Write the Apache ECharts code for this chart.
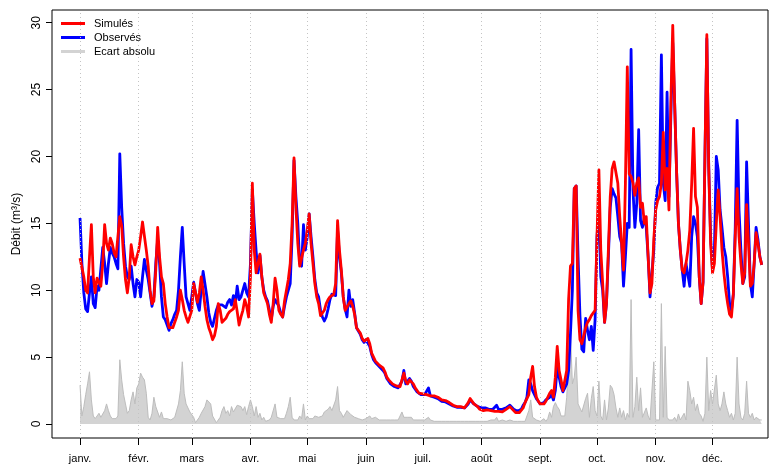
<!DOCTYPE html>
<html>
<head>
<meta charset="utf-8">
<script src="https://cdn.jsdelivr.net/npm/echarts@6/dist/echarts.min.js"></script>
<style>
html,body{margin:0;padding:0;background:#fff;}
#chart{width:777px;height:466px;}
</style>
</head>
<body>
<div id="chart"></div>
<script>
// day-of-year index (0 = 1 Jan), one value per day
const simules = [
12.4,12.3,11,10,9.8,12.5,14.9,11,9.8,10.9,
10.9,10.3,12,14.9,13.5,13.0,13.9,13.5,12.8,12.5,
12.5,15.5,14.8,12.5,10.8,9.8,11,13.4,12.5,11.9,
12.5,13,14,15.1,15.2,13,11.8,10,9.0,9.2,
11.5,14.7,12.5,11,10.5,9,8,7.2,7.1,7.2,
7.3,8,8.5,10,9.3,8.5,8.0,7.6,7.5,8.5,
10.5,10.5,9.1,9.8,11.0,10,8.8,7.8,7.2,6.8,
6.3,6.6,7.3,9.0,8.5,7.6,7.6,7.9,8.2,8.4,
8.5,8.6,9.3,8.4,7.4,8,8.5,9.3,8.8,8.0,
11,18.0,13,11.3,11.4,12.7,11,9.8,9.4,9.0,
8.2,7.6,9,10.9,10,8.5,8.2,8.0,9.2,10,
10.8,12,15,19.9,16.2,13.5,11.8,11.7,13.0,13.5,
14.5,15.7,13.5,12,10.5,9.5,9.0,8.1,8.3,8.5,
9.0,9.3,9.5,9.5,9.7,10.5,15.2,13,11.5,9.5,
8.5,8.4,9.0,9.2,8.8,8.2,7.2,7.3,6.8,6.4,
6.2,6.3,6.4,6.0,5.3,5.0,4.7,4.6,4.4,4.3,
4.2,3.9,3.5,3.3,3.2,3.0,2.9,2.85,2.8,2.8,
3.3,3.8,3.2,3.0,3.3,3.4,3.0,2.7,2.5,2.3,
2.3,2.25,2.2,2.2,2.2,2.1,2.1,2.1,2.2,2.0,
1.9,1.8,1.8,1.75,1.7,1.6,1.5,1.4,1.35,1.3,
1.3,1.3,1.25,1.2,1.3,1.6,1.9,1.8,1.5,1.4,
1.3,1.1,1.05,1.0,1.1,1.05,1.0,1.0,1.0,0.95,
1.0,0.95,0.9,0.9,1.0,1.1,1.2,1.3,1.3,1.0,
0.85,0.8,0.85,0.9,1.2,1.6,1.9,2.2,3.5,4.3,
2.8,2.0,1.7,1.5,1.4,1.5,1.7,1.6,2.3,2.5,
2.0,3.5,5.8,4.0,3.3,2.5,2.6,4.0,9.3,11.8,
12,17.6,17.8,8.5,6.3,6.0,6.6,7.2,7.6,7.8,
8.1,8.2,8.5,14,19.0,13,10.5,7.6,9,13,
17,19.1,19.6,19.6,18,15.5,13.5,11.5,18,26.7,
18.7,18.5,18,17.1,18,18.4,16.2,16.5,15,15.5,
12.5,9.8,10.5,13.8,16,16.7,17,18,21.8,17.5,
19.1,16,24,29.8,24,19,15,13,11.5,11.3,
12,13,14.5,18,22.1,17,16.2,11,9,10.6,
20,29.1,19.1,13.5,11.3,12,15,17.5,15.5,13,
11.3,10,9,8.2,8.0,9.7,14,17.6,14,12,
10.5,11.3,16.4,13.5,10.3,10.5,12,14.3,13.5,12.5,11.9
];
const observes = [
15.4,12,9.8,8.6,8.4,9.8,11.0,9,8.7,10.3,
10,9.9,13.2,12,10.5,12,13.2,12.8,12.5,12,
11.6,20.2,16.2,13.5,11.8,11,10.8,11.8,10.5,9.5,
10.8,10.6,9.5,11,12.3,11.5,10.8,9.8,8.8,9.5,
12,13.8,12,9.5,8,7.8,7.4,7.0,7.5,7.8,
8.2,8.5,10,12.5,14.7,12,9.5,9,8.5,9.5,
10.6,10.6,9,8.5,10,11.4,11.3,9.5,8.3,7.6,
7.3,7.9,8.5,8.9,9.0,8.9,8.8,8.7,9.1,9.3,
8.9,9.6,9.0,10.3,9.3,9.5,9.6,10.5,9.8,9.5,
12,17.5,15,12.9,11.3,12.6,11,10,9.5,9.2,
8.5,7.8,8.8,9.3,9.2,8.8,8.3,8.0,8.8,9.5,
10,10.5,14,19.7,17,15,12,11.8,14.9,13,
14,15.7,14,12.5,10.8,9.8,9.5,8.5,8.0,7.7,
8.0,8.6,9.3,9.7,9.8,9.6,14.5,12.5,11.3,9.5,
8.6,8.0,10.0,8.8,9.3,8.3,7.2,7.2,6.7,6.3,
6.1,6.3,6.3,5.8,5.2,4.8,4.6,4.5,4.3,4.2,
4.0,3.8,3.4,3.2,3.0,2.9,2.8,2.7,2.7,2.7,
3.2,4.0,3.0,2.9,3.4,3.2,2.8,2.6,2.4,2.3,
2.2,2.2,2.2,2.3,2.7,2.1,2.0,2.0,2.1,1.9,
1.8,1.7,1.7,1.65,1.6,1.5,1.4,1.35,1.3,1.25,
1.25,1.25,1.2,1.2,1.3,1.5,1.8,1.7,1.5,1.4,
1.3,1.2,1.2,1.15,1.2,1.15,1.1,1.2,1.1,1.2,
1.4,1.1,1.1,1.1,1.2,1.2,1.3,1.4,1.3,1.1,
1.0,0.95,1.0,1.1,1.4,1.6,2.0,3.3,3.0,2.5,
2.2,1.9,1.7,1.5,1.4,1.6,1.8,1.7,2.0,2.2,
1.8,2.5,4.3,3.5,2.8,2.4,2.3,3.0,4.0,6.8,
10,17.6,17.8,12.5,8.1,5.6,5.4,7.9,7.0,6.3,
7.3,5.5,7.8,14,16.0,11,10,7.6,9,12.5,
16.2,17.6,17.2,16.9,15.5,14,13.5,10.3,12.5,15,
14.7,28.0,17.5,14.7,16.5,22.0,15.2,14.7,15.5,14.7,
12.5,9.5,9.5,13,16.5,17.7,18,27.6,18,16.7,
24.8,17,23,28.5,24,19,15,13,11.5,10.3,
12,12,10.3,14,15.5,15,14,11,9,10.6,
20,28.8,19.3,14,11.5,13,20.0,19,16,14.7,
13.2,12.5,11,9,8.5,9.7,14.7,22.7,16,13,
10.5,11,19.6,15,10.5,9.5,12,14.7,13.8,12.5,11.9
];
const ecartAbsolu = [
2.9,0.6,1.3,2.2,3.0,3.9,1.8,0.6,0.4,0.5,
0.8,0.5,0.6,1.0,1.5,1.0,0.6,0.4,0.3,0.4,
0.6,4.8,3.3,2.2,1.5,0.8,1.0,1.8,2.4,1.5,
2.7,3.0,3.8,3.5,3.3,2.3,0.5,0.3,0.8,2.0,
1.3,1.4,0.5,0.9,0.4,0.5,0.4,0.3,0.3,0.4,
0.5,0.6,1.5,2.5,4.65,2.3,1.5,1.5,0.9,0.8,
0.5,0.1,0.1,0.5,0.8,0.8,1.3,1.8,1.7,1.5,
0.6,0.5,0.1,0.1,0.5,1.0,1.3,0.8,1.0,0.6,
1.3,0.9,1.0,1.4,1.5,1.3,1.0,1.3,0.7,1.3,
1.8,1.3,0.6,1.3,0.5,0.8,0.3,0.5,0.2,0.1,
0.3,0.5,0.5,1.5,0.5,0.6,0.4,0.3,0.4,0.8,
1.3,2.0,0.5,0.3,0.2,0.3,0.6,0.4,1.5,0.3,
0.6,0.4,0.4,0.4,0.6,0.6,0.5,0.6,0.6,0.9,
1.0,1.1,1.3,1.0,0.9,1.8,2.8,1.0,0.8,0.5,
0.6,1.0,1.05,0.7,0.6,0.5,0.4,0.4,0.4,0.3,
0.3,0.4,0.5,0.6,0.4,0.4,0.5,0.4,0.3,0.3,
0.3,0.3,0.3,0.35,0.3,0.3,0.3,0.4,0.3,0.4,
0.9,0.5,0.4,0.5,0.5,0.5,0.3,0.3,0.3,0.3,
0.3,0.2,0.3,0.3,0.5,0.3,0.2,0.2,0.3,0.2,
0.2,0.2,0.2,0.2,0.2,0.2,0.2,0.2,0.2,0.2,
0.2,0.2,0.2,0.2,0.2,0.2,0.2,0.2,0.2,0.2,
0.2,0.2,0.2,0.2,0.2,0.2,0.2,0.3,0.2,0.3,
0.5,0.2,0.3,0.3,0.3,0.2,0.2,0.3,0.2,0.2,
0.3,0.2,0.2,0.2,0.3,0.2,0.3,1.0,1.8,0.5,
0.4,0.3,0.2,0.2,0.2,0.4,0.2,0.4,0.9,0.5,
1.3,1.6,1.3,1.1,0.6,0.5,0.6,2.0,5.0,6.8,
3.0,3.5,5.0,1.5,1.6,0.9,1.0,1.9,2.3,0.5,
1.9,2.8,1.0,0.6,3.2,0.6,0.3,1.8,0.3,1.2,
2.9,2.7,2.2,1.2,0.5,1.2,0.5,1.0,0.3,0.8,
0.5,9.3,0.5,1.3,3.5,1.0,2.7,0.5,0.4,1.2,
0.6,0.3,0.3,4.65,0.3,0.2,0.3,9.0,0.5,5.8,
0.5,0.3,0.4,0.3,0.5,0.2,0.75,0.3,0.3,0.8,
0.3,3.2,2.5,1.5,2.0,1.0,1.5,0.8,0.6,0.2,
0.8,5.0,1.0,2.5,1.5,1.5,3.65,1.5,1.0,1.5,
2.4,1.5,1.0,0.5,0.8,0.3,0.8,5.0,1.5,0.5,
0.3,0.8,3.2,0.8,0.5,0.8,0.3,0.5,0.4,0.3,0.3
];
// month starts (day index) and their labels
const moisJours = [0,31,59,90,120,151,181,212,243,273,304,334];
const moisLabels = ['janv.','févr.','mars','avr.','mai','juin','juil.','août','sept.','oct.','nov.','déc.'];
const yTicks = [0,5,10,15,20,25,30];

const toXY = arr => arr.map((v, i) => [i, v]);
const FONT = 'Liberation Sans, Arial, Helvetica, sans-serif';

const chart = echarts.init(document.getElementById('chart'), null, {renderer: 'canvas'});
chart.setOption({
  animation: false,
  backgroundColor: '#fff',
  grid: {left: 52, right: 9, top: 10, bottom: 28, show: true, borderColor: '#000', borderWidth: 1, backgroundColor: 'transparent'},
  legend: {
    data: ['Simulés', 'Observés', 'Ecart absolu'],
    orient: 'vertical', left: 61, top: 17, padding: 0,
    itemWidth: 24, itemHeight: 3, itemGap: 1, icon: 'rect',
    textStyle: {fontFamily: FONT, fontSize: 11, color: '#000', lineHeight: 13, padding: [0, 0, 0, 4]},
    selectedMode: false
  },
  xAxis: {
    type: 'value', min: -14.8, max: 363.3,
    axisLine: {show: false, onZero: false},
    splitLine: {show: false},
    axisTick: {show: true, customValues: moisJours, length: 7, inside: false, lineStyle: {color: '#000', width: 1}},
    axisLabel: {
      customValues: moisJours, margin: 15,
      formatter: v => moisLabels[moisJours.indexOf(Math.round(v))] || '',
      fontFamily: FONT, fontSize: 11, color: '#000'
    }
  },
  yAxis: {
    type: 'value', min: -1.047, max: 30.95,
    name: 'Débit (m³/s)', nameLocation: 'middle', nameGap: 27, nameRotate: 90,
    nameTextStyle: {fontFamily: FONT, fontSize: 12, color: '#000'},
    axisLine: {show: false, onZero: false},
    splitLine: {show: false},
    axisTick: {show: true, customValues: yTicks, length: 6, lineStyle: {color: '#000', width: 1}},
    axisLabel: {customValues: yTicks, rotate: 90, margin: 9, fontFamily: FONT, fontSize: 12, color: '#000'}
  },
  series: [
    {
      name: 'Ecart absolu', type: 'line', data: toXY(ecartAbsolu),
      showSymbol: false, symbol: 'none', z: 1,
      itemStyle: {color: '#d3d3d3'},
      lineStyle: {color: '#bdbdbd', width: 1},
      areaStyle: {color: '#d3d3d3', opacity: 1},
      markLine: {
        silent: true, symbol: 'none', label: {show: false},
        lineStyle: {color: '#c4c4c4', type: [1, 3], width: 1},
        data: moisJours.map(d => ({xAxis: d}))
      }
    },
    {
      name: 'Observés', type: 'line', data: toXY(observes),
      showSymbol: false, symbol: 'none', z: 2,
      itemStyle: {color: '#0000ff'},
      lineStyle: {color: '#0000ff', width: 2.8, join: 'round'}
    },
    {
      name: 'Simulés', type: 'line', data: toXY(simules),
      showSymbol: false, symbol: 'none', z: 3,
      itemStyle: {color: '#ff0000'},
      lineStyle: {color: '#ff0000', width: 2.8, join: 'round'}
    }
  ]
});
</script>
</body>
</html>
